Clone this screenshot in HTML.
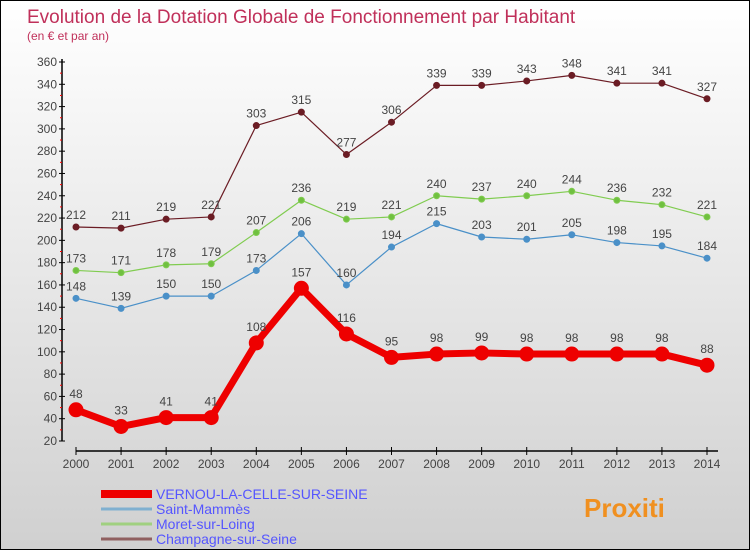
<!DOCTYPE html>
<html><head><meta charset="utf-8"><style>
body{margin:0}
#c{width:750px;height:550px;position:relative;background:linear-gradient(#ffffff,#d0d0d0);box-sizing:border-box;border:1px solid #000;font-family:"Liberation Sans",sans-serif;overflow:hidden}
svg{position:absolute;left:0;top:0}
</style></head><body>
<div id="c">
<svg id="s" width="750" height="550">
<text x="26" y="22" font-size="19" fill="#c0305a">Evolution de la Dotation Globale de Fonctionnement par Habitant</text>
<text x="26" y="39" font-size="12" fill="#c0305a">(en € et par an)</text>
</svg>
</div>
<script>
const years=["2000","2001","2002","2003","2004","2005","2006","2007","2008","2009","2010","2011","2012","2013","2014"];
const yTicks=[20,40,60,80,100,120,140,160,180,200,220,240,260,280,300,320,340,360];
const vernou=[48,33,41,41,108,157,116,95,98,99,98,98,98,98,88];
const saintMammes=[148,139,150,150,173,206,160,194,215,203,201,205,198,195,184];
const moret=[173,171,178,179,207,236,219,221,240,237,240,244,236,232,221];
const champagne=[212,211,219,221,303,315,277,306,339,339,343,348,341,341,327];
const names=["VERNOU-LA-CELLE-SUR-SEINE","Saint-Mammès","Moret-sur-Loing","Champagne-sur-Seine"];
const s=document.getElementById('s');
const NS="http://www.w3.org/2000/svg";
function X(i){return 75+i*(706-75)/(years.length-1);}
function Y(v){return 440-(v-20)*(440-61)/340;}
function mk(t,a,p){const e=document.createElementNS(NS,t);for(const k in a)e.setAttribute(k,a[k]);(p||s).appendChild(e);return e;}
// axes
let ax=mk('line',{x1:61,y1:58,x2:61,y2:440,stroke:'#000','stroke-width':1.5});


let bx=mk('line',{x1:75,y1:450,x2:717,y2:450,stroke:'#000','stroke-width':1.5});


yTicks.forEach((v,i)=>{
  const y=Y(v);
  mk('line',{x1:58,y1:y,x2:64,y2:y,stroke:'#000'});
  if(i<yTicks.length-1){mk('line',{x1:59,y1:y-(Y(v)-Y(v+20))/2,x2:61,y2:y-(Y(v)-Y(v+20))/2,stroke:'#f00'});}
  const t=mk('text',{x:56,y:y+4,'text-anchor':'end','font-size':12,fill:'#444'});t.textContent=v;
  
  
});
years.forEach((yr,i)=>{
  mk('line',{x1:X(i),y1:446,x2:X(i),y2:454,stroke:'#000'});
  const t=mk('text',{x:X(i),y:467,'text-anchor':'middle','font-size':12,fill:'#444'});t.textContent=yr;
  
  
});
function series(vals,color,dot,w,r,name){
  const g=mk('g',{});
  
  
  mk('polyline',{points:vals.map((v,i)=>X(i)+','+Y(v)).join(' '),fill:'none',stroke:color,'stroke-width':w,'stroke-linejoin':'round'},g);
  vals.forEach((v,i)=>{
    const c=mk('circle',{cx:X(i),cy:Y(v),r:r,fill:dot,stroke:color,'stroke-width':1},g);
    
    
    const t=mk('text',{x:X(i),y:Y(v)-(r+5),'text-anchor':'middle','font-size':12,fill:'#444'},g);t.textContent=v;
    
    
  });
}
series(champagne,'#6b1c24','#6b1c24',1.2,3,'series-champagne');
series(moret,'#80cc50','#70c040',1.2,3,'series-moret');
series(saintMammes,'#4a90c8','#4a90c8',1.2,3,'series-saint-mammes');
series(vernou,'#ee0000','#ee0000',7,7,'series-vernou');
// legend
const lc=['#ee0000','#80b0d0','#a0d080','#906060'],lw=[8,3,3,3];
names.forEach((n,i)=>{
  const y=493+i*15;
  const l=mk('line',{x1:100,y1:y,x2:151,y2:y,stroke:lc[i],'stroke-width':lw[i]});
  
  
  const t=mk('text',{x:155,y:y+5,'font-size':14,fill:'#5555ff'});t.textContent=n;
  
  
});
const logo=mk('text',{x:583,y:516,'font-size':26,'font-weight':'bold',fill:'#f09020'});
logo.textContent='Proxiti';


</script>
</body></html>
